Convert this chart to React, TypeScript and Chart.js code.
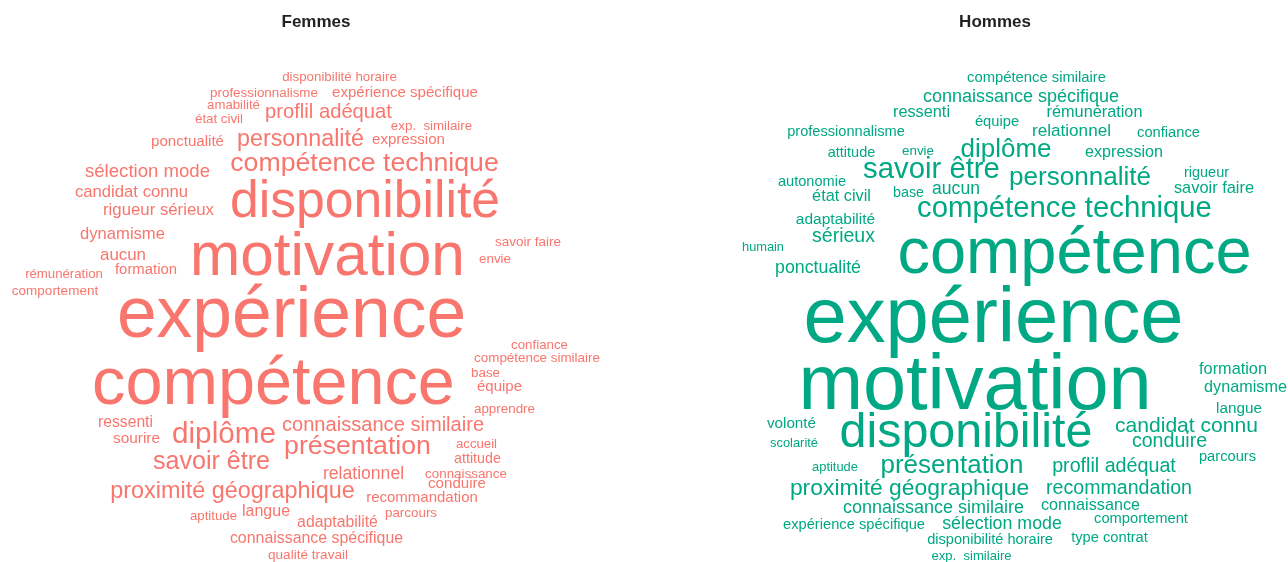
import React, { useEffect, useRef } from "react";
import { Chart, registerables } from "chart.js";

Chart.register(...registerables);

const FONT = '"Liberation Sans", Arial, Helvetica, sans-serif';

// ---------- Femmes ----------
const femmesWords = [
  "disponibilité horaire", "professionnalisme", "expérience spécifique", "amabilité",
  "proflil adéquat", "état civil", "exp.  similaire", "ponctualité", "personnalité",
  "expression", "compétence technique", "sélection mode", "disponibilité",
  "candidat connu", "rigueur sérieux", "dynamisme", "motivation", "aucun", "formation",
  "rémunération", "comportement", "savoir faire", "envie", "expérience", "confiance",
  "compétence similaire", "base", "compétence", "équipe", "apprendre", "ressenti",
  "sourire", "diplôme", "connaissance similaire", "présentation", "accueil", "attitude",
  "savoir être", "relationnel", "connaissance", "conduire", "proximité géographique",
  "recommandation", "parcours", "aptitude", "langue", "adaptabilité",
  "connaissance spécifique", "qualité travail",
];
const femmesSizes = [
  13.3, 13.4, 15.1, 13.2, 20.2, 13.3, 13.3, 15.1, 23.3, 15.1, 26.7, 18.6, 51.7, 16.7,
  16.8, 16.6, 60.3, 16.9, 14.9, 13.2, 13.5, 13.5, 13.4, 71.4, 13.3, 13.4, 13.4, 66.6,
  15, 13.4, 15.7, 15.4, 29.7, 20.1, 26.7, 13.2, 14.3, 25.1, 17.6, 13.4, 15.1, 23.4,
  15, 13.4, 13.2, 16, 15.8, 15.9, 13.6,
];
const femmesX = [
  339.5, 264, 405, 233.5, 328.5, 219, 431.5, 187.5, 300.5, 408.5, 364.5, 147.5, 365,
  131.5, 158.5, 122.5, 327.5, 123, 146, 64, 55, 528, 495, 291.5, 539.5, 537, 485.5,
  273.5, 499.5, 504.5, 125.5, 136.5, 224, 383, 357.5, 476.5, 477.5, 211.5, 363.5, 466,
  457, 232.5, 422, 411, 213.5, 266, 337.5, 316.5, 308,
];
const femmesY = [
  77, 93, 93, 105, 113, 119, 126, 142, 140, 140, 164, 172, 203, 192, 210, 235, 259,
  255, 270, 274, 291, 242, 259, 318, 345, 358, 373, 386, 387, 409, 423, 439, 435, 426,
  447, 444, 459, 462, 474, 474, 484, 492, 498, 513, 516, 512, 523, 539, 555,
];

// ---------- Hommes ----------
const hommesWords = [
  "compétence similaire", "connaissance spécifique", "ressenti", "rémunération", "équipe",
  "professionnalisme", "relationnel", "confiance", "attitude", "envie", "diplôme",
  "expression", "savoir être", "personnalité", "rigueur", "autonomie", "état civil",
  "base", "aucun", "savoir faire", "compétence technique", "adaptabilité", "sérieux",
  "humain", "compétence", "ponctualité", "expérience", "motivation", "disponibilité",
  "formation", "dynamisme", "langue", "volonté", "candidat connu", "scolarité",
  "conduire", "parcours", "aptitude", "présentation", "proflil adéquat",
  "proximité géographique", "recommandation", "connaissance similaire", "connaissance",
  "expérience spécifique", "sélection mode", "comportement", "disponibilité horaire",
  "type contrat", "exp.  similaire",
];
const hommesSizes = [
  14.8, 18, 16.3, 16.3, 14.7, 14.6, 17.1, 14.7, 14.5, 13.4, 26, 16.1, 29.3, 26.1, 14.5,
  14.6, 16.3, 14.3, 17.6, 16.4, 29.3, 15.5, 19.5, 12.8, 65, 17.8, 77.7, 77.5, 48.4,
  16.3, 16.2, 15.3, 15.2, 21.1, 12.9, 19.6, 14.7, 12.9, 26, 19.7, 22.9, 19.6, 18, 16.2,
  14.7, 17.8, 14.7, 14.6, 14.7, 13.1,
];
const hommesX = [
  1036.5, 1021, 921.5, 1094.5, 997, 846, 1071.5, 1168.5, 851.5, 918, 1006, 1124, 931.5,
  1080, 1206.5, 812, 841.5, 908.5, 956, 1214, 1064.5, 835.5, 843.5, 763, 1074.5, 818,
  993.5, 975, 966, 1233, 1245.5, 1239, 791.5, 1186.5, 794, 1169.5, 1227.5, 835, 952,
  1114, 909.5, 1119, 933.5, 1090.5, 854, 1002, 1141, 990, 1109.5, 971.5,
];
const hommesY = [
  78, 97, 113, 113, 122, 132, 131, 133, 153, 151, 150, 153, 170, 178, 173, 182, 197,
  193, 189, 189, 209, 220, 237, 248, 255, 268, 321, 388, 434, 370, 388, 409, 424,
  426, 444, 442, 457, 468, 466, 467, 489, 489, 508, 506, 525, 524, 519, 540, 538, 556,
];

const FEMMES_COLOR = "#F8766D";
const HOMMES_COLOR = "#00A884";

const wordPlugin = {
  id: "wordcloudText",
  afterDatasetsDraw(chart: any) {
    const ctx = chart.ctx;
    chart.data.datasets.forEach((ds: any, di: number) => {
      const meta = chart.getDatasetMeta(di);
      meta.data.forEach((el: any, i: number) => {
        const size = ds.sizes[i];
        ctx.save();
        ctx.font = `${size}px ${FONT}`;
        ctx.fillStyle = ds.textColor;
        ctx.textAlign = "center";
        ctx.textBaseline = "alphabetic";
        ctx.fillText(ds.words[i], el.x, el.y + 0.27 * size);
        ctx.restore();
      });
    });
  },
};

function makeConfig(
  title: string,
  words: string[],
  sizes: number[],
  xs: number[],
  ys: number[],
  color: string,
  xMin: number,
  xMax: number
): any {
  return {
    type: "scatter",
    data: {
      datasets: [
        {
          data: xs.map((x, i) => ({ x, y: ys[i] })),
          words,
          sizes,
          textColor: color,
          pointRadius: 0,
          pointHoverRadius: 0,
        },
      ],
    },
    options: {
      animation: false,
      responsive: false,
      events: [],
      layout: { padding: 0 },
      plugins: {
        legend: { display: false },
        tooltip: { enabled: false },
        title: {
          display: true,
          text: title,
          color: "#222222",
          font: { family: FONT, size: 17, weight: "bold", lineHeight: "20px" },
          padding: { top: 12, bottom: 8 },
        },
      },
      scales: {
        x: { type: "linear", display: false, min: xMin, max: xMax },
        y: { type: "linear", display: false, min: 40, max: 562, reverse: true },
      },
    },
    plugins: [wordPlugin],
  };
}

function Cloud(props: {
  title: string;
  words: string[];
  sizes: number[];
  xs: number[];
  ys: number[];
  color: string;
  left: number;
  width: number;
}) {
  const ref = useRef<HTMLCanvasElement | null>(null);
  useEffect(() => {
    if (!ref.current) return;
    const chart = new Chart(
      ref.current,
      makeConfig(
        props.title,
        props.words,
        props.sizes,
        props.xs,
        props.ys,
        props.color,
        props.left,
        props.left + props.width
      )
    );
    return () => chart.destroy();
  }, []);
  return (
    <canvas
      ref={ref}
      width={props.width}
      height={562}
      style={{
        position: "absolute",
        left: props.left,
        top: 0,
        width: props.width,
        height: 562,
        display: "block",
      }}
    />
  );
}

export default function App() {
  return (
    <div
      style={{
        position: "absolute",
        left: 0,
        top: 0,
        width: 1288,
        height: 562,
        background: "#ffffff",
        overflow: "hidden",
      }}
    >
      <Cloud
        title="Femmes"
        words={femmesWords}
        sizes={femmesSizes}
        xs={femmesX}
        ys={femmesY}
        color={FEMMES_COLOR}
        left={0}
        width={632}
      />
      <Cloud
        title="Hommes"
        words={hommesWords}
        sizes={hommesSizes}
        xs={hommesX}
        ys={hommesY}
        color={HOMMES_COLOR}
        left={702}
        width={586}
      />
    </div>
  );
}
